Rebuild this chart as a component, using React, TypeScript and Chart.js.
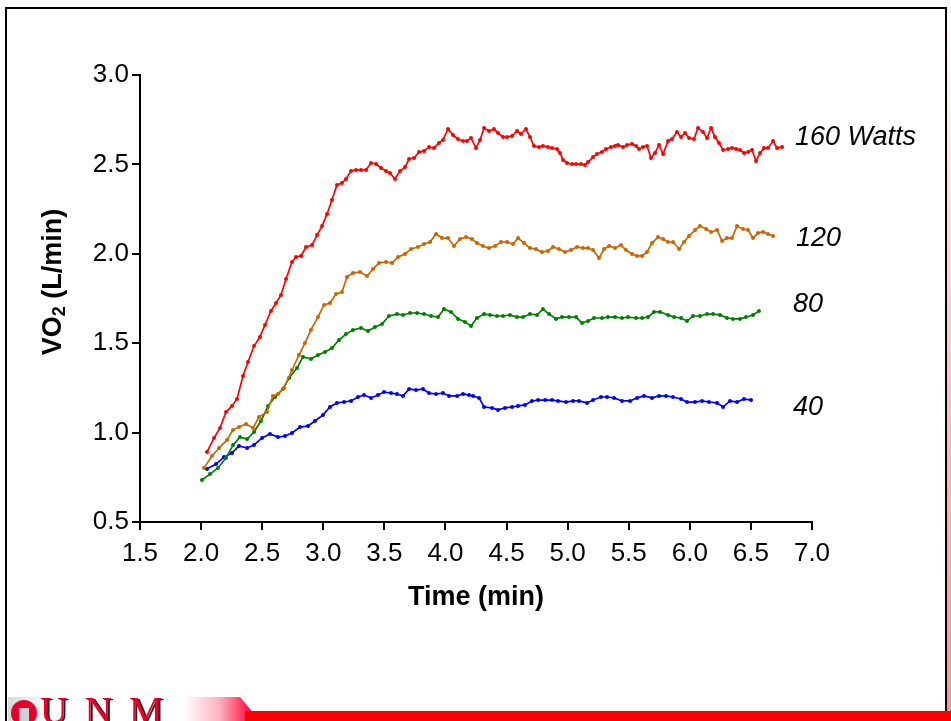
import React, { useEffect, useRef } from 'react';
import { Chart, registerables } from 'chart.js';

Chart.register(...registerables);

// ---- data (time in min, VO2 in L/min) ----
const time160 = [
  2.048, 2.106, 2.155, 2.204, 2.253, 2.294, 2.343, 2.384, 2.433, 2.482,
  2.523, 2.572, 2.613, 2.654, 2.695, 2.744, 2.777, 2.818, 2.859, 2.908,
  2.949, 2.990, 3.031, 3.071, 3.112, 3.153, 3.186, 3.227, 3.268, 3.309,
  3.350, 3.391, 3.432, 3.473, 3.513, 3.546, 3.587, 3.628, 3.669, 3.702,
  3.743, 3.784, 3.825, 3.866, 3.906, 3.947, 3.980, 4.021, 4.062, 4.103,
  4.144, 4.176, 4.209, 4.250, 4.283, 4.316, 4.357, 4.397, 4.430, 4.471,
  4.504, 4.545, 4.586, 4.618, 4.659, 4.692, 4.725, 4.766, 4.798, 4.839,
  4.872, 4.913, 4.938, 4.962, 4.995, 5.036, 5.069, 5.109, 5.142, 5.167,
  5.208, 5.240, 5.281, 5.314, 5.355, 5.388, 5.412, 5.453, 5.486, 5.527,
  5.560, 5.584, 5.617, 5.650, 5.682, 5.715, 5.748, 5.781, 5.822, 5.854,
  5.895, 5.928, 5.961, 5.994, 6.034, 6.067, 6.108, 6.141, 6.174, 6.206,
  6.239, 6.272, 6.313, 6.346, 6.378, 6.411, 6.444, 6.477, 6.509, 6.542,
  6.575, 6.607, 6.640, 6.681, 6.714, 6.755,
];
const vo2_160 = [
  0.891, 0.970, 1.026, 1.115, 1.149, 1.188, 1.317, 1.395, 1.484, 1.535,
  1.602, 1.680, 1.725, 1.770, 1.859, 1.954, 1.982, 1.988, 2.038, 2.049,
  2.105, 2.155, 2.223, 2.301, 2.385, 2.396, 2.418, 2.463, 2.469, 2.469,
  2.469, 2.508, 2.502, 2.480, 2.463, 2.452, 2.418, 2.463, 2.485, 2.530,
  2.536, 2.569, 2.575, 2.597, 2.592, 2.620, 2.637, 2.698, 2.664, 2.642,
  2.631, 2.631, 2.648, 2.592, 2.637, 2.704, 2.687, 2.698, 2.676, 2.653,
  2.653, 2.659, 2.687, 2.670, 2.698, 2.653, 2.603, 2.597, 2.603, 2.597,
  2.592, 2.586, 2.564, 2.525, 2.508, 2.502, 2.502, 2.502, 2.497, 2.513,
  2.541, 2.558, 2.569, 2.586, 2.597, 2.603, 2.609, 2.597, 2.609, 2.614,
  2.603, 2.586, 2.597, 2.603, 2.536, 2.564, 2.609, 2.558, 2.631, 2.642,
  2.681, 2.653, 2.676, 2.648, 2.642, 2.704, 2.681, 2.648, 2.704, 2.653,
  2.620, 2.581, 2.586, 2.592, 2.586, 2.581, 2.564, 2.569, 2.581, 2.519,
  2.564, 2.592, 2.592, 2.631, 2.592, 2.597,
];

const time120 = [
  2.024, 2.089, 2.147, 2.212, 2.261, 2.310, 2.368, 2.425, 2.474, 2.539,
  2.588, 2.629, 2.678, 2.744, 2.801, 2.850, 2.899, 2.957, 3.006, 3.055,
  3.104, 3.153, 3.194, 3.243, 3.301, 3.358, 3.407, 3.456, 3.513, 3.563,
  3.612, 3.669, 3.718, 3.775, 3.825, 3.874, 3.923, 3.972, 4.021, 4.070,
  4.119, 4.168, 4.217, 4.258, 4.307, 4.356, 4.406, 4.455, 4.504, 4.553,
  4.594, 4.643, 4.692, 4.741, 4.790, 4.839, 4.880, 4.929, 4.979, 5.028,
  5.077, 5.126, 5.167, 5.208, 5.257, 5.298, 5.339, 5.388, 5.437, 5.478,
  5.527, 5.568, 5.609, 5.650, 5.691, 5.740, 5.781, 5.822, 5.863, 5.912,
  5.953, 5.994, 6.043, 6.083, 6.133, 6.174, 6.223, 6.264, 6.304, 6.345,
  6.386, 6.435, 6.476, 6.517, 6.558, 6.599, 6.640, 6.681,
];
const vo2_120 = [
  0.802, 0.869, 0.914, 0.959, 1.015, 1.031, 1.048, 1.026, 1.087, 1.115,
  1.205, 1.216, 1.249, 1.350, 1.434, 1.501, 1.574, 1.647, 1.714, 1.725,
  1.775, 1.786, 1.870, 1.893, 1.898, 1.876, 1.915, 1.949, 1.954, 1.949,
  1.982, 1.999, 2.027, 2.038, 2.055, 2.066, 2.111, 2.088, 2.088, 2.044,
  2.083, 2.094, 2.083, 2.060, 2.044, 2.032, 2.044, 2.066, 2.066, 2.055,
  2.088, 2.060, 2.032, 2.027, 2.010, 2.016, 2.038, 2.027, 2.010, 2.021,
  2.038, 2.032, 2.032, 2.021, 1.976, 2.027, 2.044, 2.032, 2.049, 2.021,
  1.999, 1.988, 1.988, 2.010, 2.060, 2.094, 2.083, 2.066, 2.066, 2.027,
  2.066, 2.100, 2.133, 2.155, 2.139, 2.122, 2.133, 2.072, 2.088, 2.088,
  2.155, 2.139, 2.133, 2.088, 2.116, 2.122, 2.111, 2.100,
];

const time80 = [
  2.007, 2.073, 2.138, 2.204, 2.261, 2.318, 2.376, 2.433, 2.490, 2.548,
  2.605, 2.670, 2.720, 2.785, 2.834, 2.900, 2.957, 3.014, 3.071, 3.129,
  3.186, 3.243, 3.309, 3.366, 3.423, 3.481, 3.538, 3.603, 3.653, 3.710,
  3.767, 3.825, 3.882, 3.939, 3.988, 4.045, 4.103, 4.160, 4.209, 4.258,
  4.316, 4.365, 4.422, 4.471, 4.528, 4.586, 4.635, 4.692, 4.749, 4.798,
  4.848, 4.905, 4.954, 5.011, 5.069, 5.118, 5.167, 5.216, 5.281, 5.330,
  5.388, 5.445, 5.494, 5.560, 5.609, 5.658, 5.707, 5.756, 5.822, 5.871,
  5.928, 5.977, 6.026, 6.083, 6.141, 6.190, 6.247, 6.304, 6.353, 6.411,
  6.460, 6.517, 6.566,
];
const vo2_80 = [
  0.735, 0.768, 0.802, 0.858, 0.930, 0.975, 0.964, 1.003, 1.065, 1.149,
  1.199, 1.244, 1.305, 1.361, 1.423, 1.412, 1.434, 1.451, 1.473, 1.518,
  1.551, 1.574, 1.585, 1.568, 1.591, 1.607, 1.652, 1.663, 1.658, 1.669,
  1.669, 1.663, 1.652, 1.646, 1.691, 1.675, 1.636, 1.619, 1.596, 1.641,
  1.663, 1.658, 1.652, 1.652, 1.658, 1.646, 1.646, 1.663, 1.658, 1.691,
  1.663, 1.636, 1.646, 1.646, 1.646, 1.613, 1.624, 1.641, 1.641, 1.646,
  1.646, 1.641, 1.646, 1.641, 1.641, 1.646, 1.675, 1.675, 1.658, 1.646,
  1.641, 1.624, 1.652, 1.652, 1.663, 1.663, 1.658, 1.641, 1.636, 1.636,
  1.646, 1.658, 1.680,
];

const time40 = [
  2.048, 2.122, 2.187, 2.253, 2.310, 2.376, 2.433, 2.499, 2.564, 2.629,
  2.687, 2.744, 2.810, 2.875, 2.932, 2.998, 3.055, 3.112, 3.170, 3.227,
  3.284, 3.333, 3.391, 3.448, 3.497, 3.554, 3.603, 3.653, 3.702, 3.759,
  3.816, 3.865, 3.923, 3.980, 4.029, 4.095, 4.144, 4.193, 4.226, 4.275,
  4.316, 4.381, 4.430, 4.487, 4.545, 4.594, 4.651, 4.708, 4.758, 4.815,
  4.872, 4.921, 4.987, 5.044, 5.093, 5.159, 5.208, 5.273, 5.322, 5.380,
  5.445, 5.511, 5.568, 5.625, 5.691, 5.748, 5.805, 5.862, 5.928, 5.977,
  6.043, 6.100, 6.157, 6.223, 6.272, 6.329, 6.386, 6.443, 6.501,
];
const vo2_40 = [
  0.796, 0.824, 0.863, 0.886, 0.925, 0.914, 0.931, 0.970, 0.992, 0.975,
  0.981, 0.998, 1.031, 1.037, 1.065, 1.099, 1.143, 1.166, 1.171, 1.177,
  1.199, 1.210, 1.194, 1.210, 1.227, 1.221, 1.216, 1.205, 1.244, 1.238,
  1.244, 1.221, 1.216, 1.221, 1.205, 1.205, 1.216, 1.210, 1.205, 1.194,
  1.143, 1.138, 1.127, 1.138, 1.143, 1.149, 1.155, 1.177, 1.182, 1.182,
  1.182, 1.177, 1.171, 1.177, 1.177, 1.166, 1.182, 1.199, 1.199, 1.194,
  1.177, 1.177, 1.194, 1.205, 1.194, 1.205, 1.205, 1.199, 1.188, 1.171,
  1.171, 1.177, 1.171, 1.166, 1.143, 1.177, 1.171, 1.188, 1.182,
];

const seriesNames = ['160 Watts', '120', '80', '40'];
const xAxisTitle = 'Time (min)';
const yAxisTitleParts = ['VO', '2', ' (L/min)'];
const xMin = 1.5;
const xMax = 7.0;
const yMin = 0.5;
const yMax = 3.0;
const tickStep = 0.5;

// where each series name sits (data units)
const labelAnchorX = [6.861, 6.869, 6.845, 6.845];
const labelAnchorY = [2.653, 2.088, 1.716, 1.143];

const seriesColors = ['#ff0000', '#cc6600', '#008000', '#0000ff'];
const FONT = '"Liberation Sans", Arial, Helvetica, sans-serif';

const toPoints = (t: number[], v: number[]) => t.map((x, i) => ({ x, y: v[i] }));

const textPlugin = {
  id: 'vo2Text',
  afterDraw(chart: any) {
    const { ctx } = chart;
    const xs = chart.scales.x;
    const ys = chart.scales.y;
    ctx.save();
    // series labels
    ctx.font = `italic 27px ${FONT}`;
    ctx.fillStyle = '#000';
    ctx.textBaseline = 'middle';
    ctx.textAlign = 'left';
    seriesNames.forEach((name, i) => {
      ctx.fillText(name, xs.getPixelForValue(labelAnchorX[i]), ys.getPixelForValue(labelAnchorY[i]));
    });
    // y axis title with subscript
    const big = `bold 27px ${FONT}`;
    const small = `bold 18px ${FONT}`;
    ctx.font = big;
    const w0 = ctx.measureText(yAxisTitleParts[0]).width;
    const w2 = ctx.measureText(yAxisTitleParts[2]).width;
    ctx.font = small;
    const w1 = ctx.measureText(yAxisTitleParts[1]).width;
    const total = w0 + w1 + w2;
    ctx.translate(54, 282);
    ctx.rotate(-Math.PI / 2);
    ctx.textAlign = 'left';
    ctx.textBaseline = 'middle';
    let pos = -total / 2;
    ctx.font = big;
    ctx.fillText(yAxisTitleParts[0], pos, 0);
    pos += w0;
    ctx.font = small;
    ctx.fillText(yAxisTitleParts[1], pos, 6);
    pos += w1;
    ctx.font = big;
    ctx.fillText(yAxisTitleParts[2], pos, 0);
    ctx.restore();
  },
};

export default function App() {
  const ref = useRef<HTMLCanvasElement>(null);

  useEffect(() => {
    const canvas = ref.current!;
    const series = [
      toPoints(time160, vo2_160),
      toPoints(time120, vo2_120),
      toPoints(time80, vo2_80),
      toPoints(time40, vo2_40),
    ];
    const axisCommon = {
      type: 'linear' as const,
      grid: {
        display: true,
        drawOnChartArea: false,
        drawTicks: true,
        tickLength: 8,
        color: '#000',
        lineWidth: 2,
      },
      border: { display: true, color: '#000', width: 2 },
    };
    const chart = new Chart(canvas, {
      type: 'scatter',
      data: {
        datasets: series.map((pts, i) => ({
          label: seriesNames[i],
          data: pts,
          showLine: true,
          borderColor: seriesColors[i],
          backgroundColor: seriesColors[i],
          borderWidth: 1.7,
          pointRadius: 2,
          pointBorderWidth: 0,
          pointBackgroundColor: seriesColors[i],
          tension: 0,
        })),
      },
      options: {
        responsive: false,
        animation: false,
        devicePixelRatio: 1,
        layout: { padding: { left: 0, top: 75, right: 139, bottom: 0 } },
        plugins: { legend: { display: false }, tooltip: { enabled: false } },
        scales: {
          x: {
            ...axisCommon,
            min: xMin,
            max: xMax,
            afterFit: (s: any) => { s.height = 199; },
            ticks: {
              stepSize: tickStep,
              autoSkip: false,
              maxRotation: 0,
              padding: 8,
              color: '#000',
              font: { family: FONT, size: 26 },
              callback: (v: any) => Number(v).toFixed(1),
            },
            title: {
              display: true,
              text: xAxisTitle,
              color: '#000',
              font: { family: FONT, size: 27, weight: 'bold' },
              padding: { top: 0, bottom: 107 },
            },
          },
          y: {
            ...axisCommon,
            min: yMin,
            max: yMax,
            afterFit: (s: any) => { s.width = 140; },
            ticks: {
              stepSize: tickStep,
              autoSkip: false,
              padding: 3,
              color: '#000',
              font: { family: FONT, size: 26 },
              callback: (v: any) => Number(v).toFixed(1),
            },
          },
        },
      } as any,
      plugins: [textPlugin],
    });
    return () => chart.destroy();
  }, []);

  return (
    <div style={{ position: 'absolute', left: 0, top: 0, width: 951, height: 721, overflow: 'hidden', background: '#fff' }}>
      <canvas ref={ref} width={951} height={721} style={{ position: 'absolute', left: 0, top: 0, width: 951, height: 721 }} />
      {/* slide frame */}
      <div style={{ position: 'absolute', left: 5, top: 7, width: 942, height: 740, border: '2px solid #000', boxSizing: 'border-box', pointerEvents: 'none' }} />
      <div style={{ position: 'absolute', left: 947, top: 0, width: 4, height: 721, background: 'linear-gradient(to bottom, #fff 0%, #ffd0d0 40%, #ff9090 100%)' }} />
      {/* bottom logo band */}
      <div style={{ position: 'absolute', left: 8, top: 697, width: 252, height: 24, background: 'linear-gradient(to right, #d8d8d8 0%, #ffffff 18%, #ffffff 70%, #ffb0c0 84%, #ff0033 97%)', clipPath: 'polygon(0 0, 232px 0, 252px 24px, 0 24px)' }} />
      <div style={{ position: 'absolute', left: 245, top: 711, width: 706, height: 10, background: '#ff0000' }} />
      <div style={{ position: 'absolute', left: 11, top: 700, width: 26, height: 26, borderRadius: '50%', background: '#e8002a' }} />
      <div style={{ position: 'absolute', left: 19, top: 708, width: 10, height: 13, background: '#d0d0d0' }} />
      <div style={{ position: 'absolute', left: 40, top: 691, fontFamily: '"Liberation Serif", "Times New Roman", serif', fontSize: 38, lineHeight: '38px', color: '#e8002a', letterSpacing: 17, textShadow: '2px 1px 0 #222', whiteSpace: 'nowrap' }}>
        UNM
      </div>
    </div>
  );
}
